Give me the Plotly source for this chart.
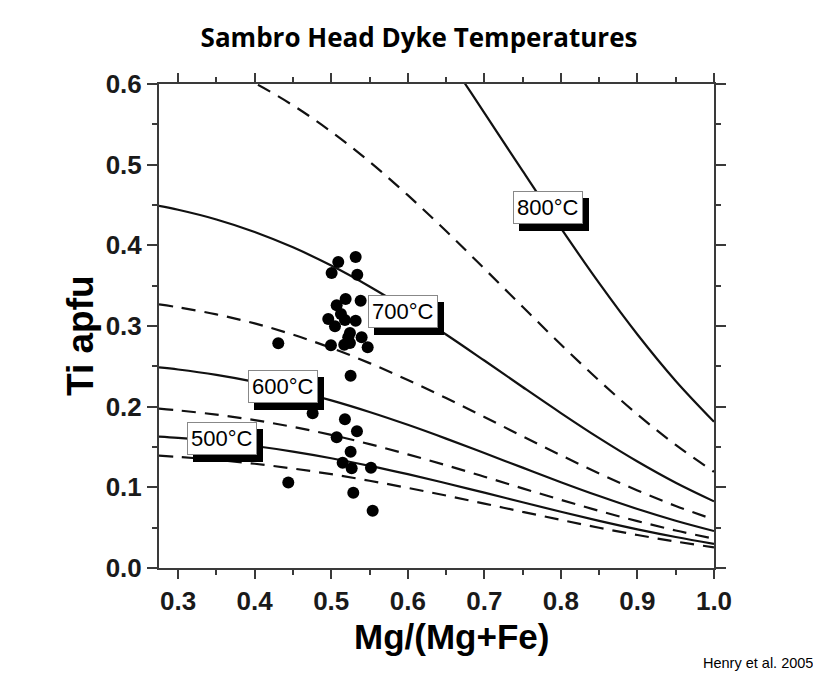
import plotly.graph_objects as go

# Isotherm grid (Mg/(Mg+Fe)) and Ti apfu values
x_grid = [0.275, 0.3, 0.35, 0.4, 0.45, 0.5, 0.55, 0.6, 0.65, 0.7, 0.75, 0.8, 0.85, 0.9, 0.95, 1.0]

ti_450 = [0.1392, 0.1377, 0.1340, 0.1292, 0.1233, 0.1163, 0.1082, 0.0993, 0.0898, 0.0798, 0.0696, 0.0596, 0.0499, 0.0409, 0.0328, 0.0256]
ti_500 = [0.1629, 0.1612, 0.1568, 0.1512, 0.1443, 0.1361, 0.1267, 0.1163, 0.1051, 0.0934, 0.0815, 0.0697, 0.0584, 0.0479, 0.0384, 0.0300]
ti_550 = [0.1975, 0.1954, 0.1901, 0.1833, 0.1749, 0.1650, 0.1536, 0.1409, 0.1274, 0.1132, 0.0987, 0.0845, 0.0708, 0.0581, 0.0465, 0.0364]
ti_600 = [0.2487, 0.2461, 0.2394, 0.2308, 0.2203, 0.2078, 0.1934, 0.1775, 0.1604, 0.1425, 0.1244, 0.1064, 0.0892, 0.0731, 0.0586, 0.0458]
ti_650 = [0.3267, 0.3232, 0.3144, 0.3032, 0.2893, 0.2728, 0.2540, 0.2331, 0.2107, 0.1872, 0.1633, 0.1398, 0.1172, 0.0961, 0.0769, 0.0601]
ti_700 = [0.4489, 0.4441, 0.4321, 0.4166, 0.3975, 0.3749, 0.3490, 0.3203, 0.2895, 0.2572, 0.2244, 0.1921, 0.1610, 0.1320, 0.1057, 0.0826]

x_750 = [0.35, 0.4, 0.45, 0.5, 0.55, 0.6, 0.65, 0.7, 0.75, 0.8, 0.85, 0.9, 0.95, 1.0]
ti_750 = [0.6234, 0.6011, 0.5735, 0.5409, 0.5036, 0.4622, 0.4177, 0.3711, 0.3238, 0.2771, 0.2323, 0.1904, 0.1525, 0.1192]

x_800 = [0.65, 0.675, 0.7, 0.75, 0.8, 0.85, 0.9, 0.95, 1.0]
ti_800 = [0.6350, 0.6000, 0.5642, 0.4923, 0.4213, 0.3531, 0.2895, 0.2319, 0.1813]

# Sample points
sample_mg = [0.5319, 0.5092, 0.5005, 0.5340, 0.5188, 0.5384, 0.5071, 0.5127, 0.5179, 0.4961,
             0.5319, 0.5049, 0.5244, 0.5222, 0.5397, 0.4996, 0.5170, 0.5244, 0.5476, 0.4308,
             0.5253, 0.4709, 0.4757, 0.5179, 0.5336, 0.5071, 0.5253, 0.5149, 0.5267, 0.5519,
             0.4439, 0.5288, 0.5541]
sample_ti = [0.3855, 0.3793, 0.3656, 0.3636, 0.3335, 0.3314, 0.3256, 0.3149, 0.3074, 0.3087,
             0.3066, 0.2996, 0.2913, 0.2860, 0.2860, 0.2761, 0.2768, 0.2789, 0.2736, 0.2785,
             0.2384, 0.2157, 0.1918, 0.1843, 0.1694, 0.1620, 0.1442, 0.1305, 0.1236, 0.1243,
             0.1060, 0.0933, 0.0710]

# Isotherm labels
label_text = ["800°C", "700°C", "600°C", "500°C"]
label_x = [0.783, 0.5937, 0.4373, 0.3575]
label_y = [0.4475, 0.3186, 0.2254, 0.1601]

x_ticks = [0.3, 0.4, 0.5, 0.6, 0.7, 0.8, 0.9, 1.0]
y_ticks = [0.0, 0.1, 0.2, 0.3, 0.4, 0.5, 0.6]

fig = go.Figure()

def add_line(xs, ys, dashed):
    fig.add_trace(go.Scatter(
        x=xs, y=ys, mode="lines", line_shape="spline", showlegend=False, hoverinfo="skip",
        line=dict(color="#111111", width=2.2, dash="14px,9px" if dashed else "solid")))

add_line(x_grid, ti_450, True)
add_line(x_grid, ti_500, False)
add_line(x_grid, ti_550, True)
add_line(x_grid, ti_600, False)
add_line(x_grid, ti_650, True)
add_line(x_grid, ti_700, False)
add_line(x_750, ti_750, True)
add_line(x_800, ti_800, False)

fig.add_trace(go.Scatter(x=sample_mg, y=sample_ti, mode="markers", showlegend=False,
                         marker=dict(color="black", size=12)))

axis_color = "#3a3a3a"
tick_font = dict(family="Liberation Sans, Arial", size=26, color="#1a1a1a")

fig.update_layout(
    width=813, height=675,
    margin=dict(l=159, r=99, t=84, b=107, autoexpand=False),
    paper_bgcolor="white", plot_bgcolor="white", showlegend=False,
    title=dict(text="<b>Sambro Head Dyke Temperatures</b>", x=0.5154, xanchor="center",
               y=1 - 38 / 675, yanchor="middle", yref="container",
               font=dict(family="Open Sans", size=26, color="black")),
    xaxis=dict(range=[0.275, 1.0], tickvals=x_ticks,
               ticktext=[f"<b>{v:.1f}</b>" for v in x_ticks],
               showgrid=False, zeroline=False, showline=True, mirror="ticks",
               linecolor=axis_color, linewidth=2,
               ticks="outside", ticklen=9, tickwidth=2, tickcolor=axis_color, tickfont=tick_font,
               minor=dict(tick0=0.35, dtick=0.1, ticks="outside", ticklen=5, tickwidth=2, tickcolor=axis_color)),
    yaxis=dict(range=[0, 0.6], tickvals=y_ticks,
               ticktext=[f"<b>{v:.1f}</b>" for v in y_ticks],
               showgrid=False, zeroline=False, showline=True, mirror="ticks",
               linecolor=axis_color, linewidth=2,
               ticks="outside", ticklen=10, tickwidth=2, tickcolor=axis_color, tickfont=tick_font,
               minor=dict(tick0=0.05, dtick=0.1, ticks="outside", ticklen=5, tickwidth=2, tickcolor=axis_color)),
)

annotations = []
label_font = dict(family="Liberation Sans, Arial", size=22, color="black")
for t, lx, ly in zip(label_text, label_x, label_y):
    annotations.append(dict(x=lx, y=ly, xref="x", yref="y", text=t, showarrow=False,
                            xshift=6, yshift=-7, font=dict(family="Liberation Sans, Arial", size=22, color="black"),
                            bgcolor="black", bordercolor="black", borderwidth=1, borderpad=3))
for t, lx, ly in zip(label_text, label_x, label_y):
    annotations.append(dict(x=lx, y=ly, xref="x", yref="y", text=t, showarrow=False,
                            font=label_font, bgcolor="white", bordercolor="#888888",
                            borderwidth=1, borderpad=3))

annotations.append(dict(text="<b>Mg/(Mg+Fe)</b>", x=451.5 / 813, y=1 - 636 / 675, xref="paper", yref="paper",
                        xanchor="center", yanchor="middle", showarrow=False,
                        font=dict(family="Liberation Sans, Arial", size=35, color="black")))
annotations.append(dict(text="<b>Ti apfu</b>", x=80 / 813, y=1 - 336 / 675, xref="paper", yref="paper",
                        xanchor="center", yanchor="middle", textangle=-90, showarrow=False,
                        font=dict(family="Liberation Sans, Arial", size=37, color="black")))
annotations.append(dict(text="Henry et al. 2005", x=701 / 813, y=1 - 663 / 675, xref="paper", yref="paper",
                        xanchor="left", yanchor="middle", showarrow=False,
                        font=dict(family="Liberation Sans, Arial", size=14.5, color="black")))

# convert figure-pixel positions to paper coords (paper = plot area)
plot_w = 813 - 159 - 99
plot_h = 675 - 84 - 107
for a in annotations:
    if a.get("xref") == "paper":
        px = a["x"] * 813
        py = (1 - a["y"]) * 675
        a["x"] = (px - 159) / plot_w
        a["y"] = (675 - 107 - py) / plot_h

fig.update_layout(annotations=annotations)

fig.write_html("out.html")
